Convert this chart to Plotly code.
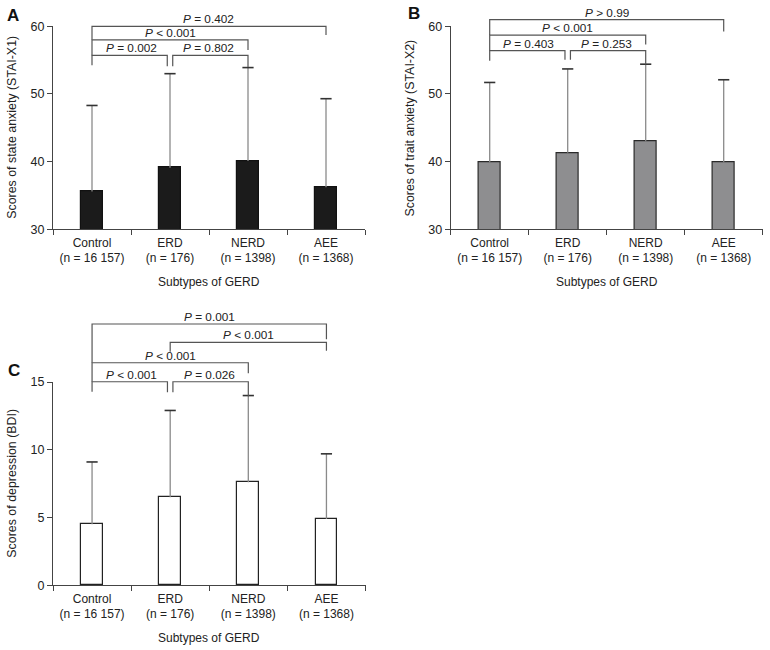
import plotly.graph_objects as go

# ---------------- data ----------------
categories = ["Control", "ERD", "NERD", "AEE"]
group_sizes = ["16 157", "176", "1398", "1368"]
tick_labels = [f"{c}<br>(n = {n})" for c, n in zip(categories, group_sizes)]

state_anxiety_mean = [35.6, 39.1, 40.1, 36.2]
state_anxiety_sd = [12.7, 13.9, 13.8, 13.1]
trait_anxiety_mean = [39.9, 41.3, 43.0, 39.9]
trait_anxiety_sd = [11.8, 12.4, 11.4, 12.2]
depression_mean = [4.5, 6.5, 7.6, 4.9]
depression_sd = [4.6, 6.4, 6.4, 4.8]

state_pairs = [("Control", "AEE"), ("Control", "NERD"), ("Control", "ERD"), ("ERD", "NERD")]
state_pvalues = ["= 0.402", "< 0.001", "= 0.002", "= 0.802"]
trait_pairs = [("Control", "AEE"), ("Control", "NERD"), ("Control", "ERD"), ("ERD", "NERD")]
trait_pvalues = ["> 0.99", "< 0.001", "= 0.403", "= 0.253"]
depression_pairs = [("Control", "AEE"), ("ERD", "AEE"), ("Control", "NERD"), ("Control", "ERD"), ("ERD", "NERD")]
depression_pvalues = ["= 0.001", "< 0.001", "< 0.001", "< 0.001", "= 0.026"]

# ---------------- layout geometry ----------------
W, H = 770, 650
FONT = "Liberation Sans, Arial, sans-serif"
TXT = "#222222"

# bracket geometry: (level, left leg bottom, right leg bottom, left x offset, right x offset)
state_brackets = [(60.0, 58.0, 58.7, 0, 0), (58.0, 55.7, 56.5, 0, 0),
                  (55.7, 54.25, 54.1, 0, -0.035), (55.7, 54.1, 54.0, 0.035, 0)]
trait_brackets = [(61.0, 58.7, 59.25, 0, 0), (58.7, 56.4, 57.3, 0, 0),
                  (56.4, 54.9, 55.05, 0, -0.035), (56.4, 55.05, 54.35, 0.035, 0)]
depr_brackets = [(19.28, 16.42, 18.15, 0, 0), (17.93, 17.24, 17.3, 0, 0),
                 (16.42, 15.02, 15.64, 0, 0), (15.02, 14.28, 14.24, 0, -0.035),
                 (15.02, 14.24, 13.97, 0.035, 0)]

panels = [
    dict(letter="A", xa="x", ya="y", xpx=(53, 365), ypx=(229.3, 26.3), yr=(30, 60),
         ticks=[30, 40, 50, 60], mean=state_anxiety_mean, sd=state_anxiety_sd,
         fill="#1b1b1b", edge="#111111", title="Scores of state anxiety (STAI-X1)",
         pairs=state_pairs, pv=state_pvalues, br=state_brackets, letter_xy=(13, 15)),
    dict(letter="B", xa="x2", ya="y2", xpx=(450.7, 762.7), ypx=(229.3, 26.3), yr=(30, 60),
         ticks=[30, 40, 50, 60], mean=trait_anxiety_mean, sd=trait_anxiety_sd,
         fill="#8e8e90", edge="#2a2a2a", title="Scores of trait anxiety (STAI-X2)",
         pairs=trait_pairs, pv=trait_pvalues, br=trait_brackets, letter_xy=(414, 14)),
    dict(letter="C", xa="x3", ya="y3", xpx=(53, 365.5), ypx=(585.3, 382.0), yr=(0, 15),
         ticks=[0, 5, 10, 15], mean=depression_mean, sd=depression_sd,
         fill="#ffffff", edge="#222222", title="Scores of depression (BDI)",
         pairs=depression_pairs, pv=depression_pvalues, br=depr_brackets, letter_xy=(14, 370)),
]

fig = go.Figure()
shapes, annotations = [], []

for p in panels:
    x0, x1 = p["xpx"]
    yb, yt = p["ypx"]
    r0, r1 = p["yr"]
    ppu = (yb - yt) / (r1 - r0)

    def px_x(xc, x0=x0, x1=x1):
        return x0 + (xc + 0.5) / 4 * (x1 - x0)

    def px_y(v, yb=yb, r0=r0, ppu=ppu):
        return yb - (v - r0) * ppu

    def paper(xp, yp):
        return xp / W, 1 - yp / H

    fig.add_trace(go.Bar(
        x=categories, y=p["mean"], width=0.28,
        marker=dict(color=p["fill"], line=dict(color=p["edge"], width=1.2)),
        error_y=dict(type="data", array=p["sd"], arrayminus=[0] * 4, symmetric=False,
                     color="#8a8a8a", thickness=1.3, width=0),
        xaxis=p["xa"], yaxis=p["ya"], showlegend=False, hoverinfo="skip"))
    fig.add_trace(go.Scatter(
        x=categories, y=[m + s for m, s in zip(p["mean"], p["sd"])], mode="markers",
        marker=dict(symbol="line-ew", size=8, line=dict(color="#333333", width=1.6)),
        xaxis=p["xa"], yaxis=p["ya"], showlegend=False, hoverinfo="skip", cliponaxis=False))

    axn = p["xa"].replace("x", "xaxis")
    ayn = p["ya"].replace("y", "yaxis")
    fig.layout[axn] = dict(
        domain=[x0 / W, x1 / W], anchor=p["ya"], type="category", automargin=False,
        categoryorder="array", categoryarray=categories, range=[-0.5, 3.5],
        tickmode="array", tickvals=categories, ticktext=tick_labels,
        tickson="boundaries", ticks="outside", ticklen=5, tickcolor="#444",
        ticklabelstandoff=2,
        showline=True, linecolor="#444", linewidth=1.2, showgrid=False, zeroline=False,
        tickfont=dict(family=FONT, size=12, color=TXT), fixedrange=True)
    fig.layout[ayn] = dict(
        domain=[1 - yb / H, 1 - yt / H], anchor=p["xa"], range=[r0, r1], automargin=False,
        tickmode="array", tickvals=p["ticks"], ticks="outside", ticklen=5, tickcolor="#444",
        showline=True, linecolor="#444", linewidth=1.2, showgrid=False, zeroline=False,
        tickfont=dict(family=FONT, size=12.5, color=TXT), fixedrange=True)

    # axis titles
    ax_, ay_ = paper(x0 - 41, (yb + yt) / 2)
    annotations.append(dict(x=ax_, y=ay_, xref="paper", yref="paper", text=p["title"],
                            textangle=-90, showarrow=False, xanchor="center", yanchor="middle",
                            font=dict(family=FONT, size=12.4, color=TXT)))
    tx, ty = paper((x0 + x1) / 2, yb + 53)
    annotations.append(dict(x=tx, y=ty, xref="paper", yref="paper", text="Subtypes of GERD",
                            showarrow=False, xanchor="center", yanchor="middle",
                            font=dict(family=FONT, size=12, color=TXT)))
    lx, ly = paper(*p["letter_xy"])
    annotations.append(dict(x=lx, y=ly, xref="paper", yref="paper", text="<b>" + p["letter"] + "</b>",
                            showarrow=False, xanchor="center", yanchor="middle",
                            font=dict(family=FONT, size=17, color="#111")))

    # significance brackets
    for (a, b), pv, (lev, lb, rb, lo, ro) in zip(p["pairs"], p["pv"], p["br"]):
        xa_ = px_x(categories.index(a) + lo)
        xb_ = px_x(categories.index(b) + ro)
        pts = [(xa_, px_y(lb)), (xa_, px_y(lev)), (xb_, px_y(lev)), (xb_, px_y(rb))]
        pp = [paper(*q) for q in pts]
        path = "M " + " L ".join(f"{u:.5f},{v:.5f}" for u, v in pp)
        shapes.append(dict(type="path", path=path, xref="paper", yref="paper",
                           line=dict(color="#555555", width=1.2)))
        mx = (px_x(categories.index(a)) + px_x(categories.index(b))) / 2
        ux, uy = paper(mx, px_y(lev) - 7)
        annotations.append(dict(x=ux, y=uy, xref="paper", yref="paper",
                                xanchor="center", yanchor="middle",
                                text="<i>P</i> " + pv, showarrow=False,
                                font=dict(family=FONT, size=11.8, color=TXT)))

fig.update_layout(
    template="none",
    width=W, height=H, margin=dict(l=0, r=0, t=0, b=0, pad=0, autoexpand=False),
    paper_bgcolor="white", plot_bgcolor="white", bargap=0,
    shapes=shapes, annotations=annotations,
    font=dict(family=FONT, color=TXT),
)

fig.write_html("out.html", config={"displayModeBar": False},
               post_script="document.body.style.margin='0';document.body.style.padding='0';")
